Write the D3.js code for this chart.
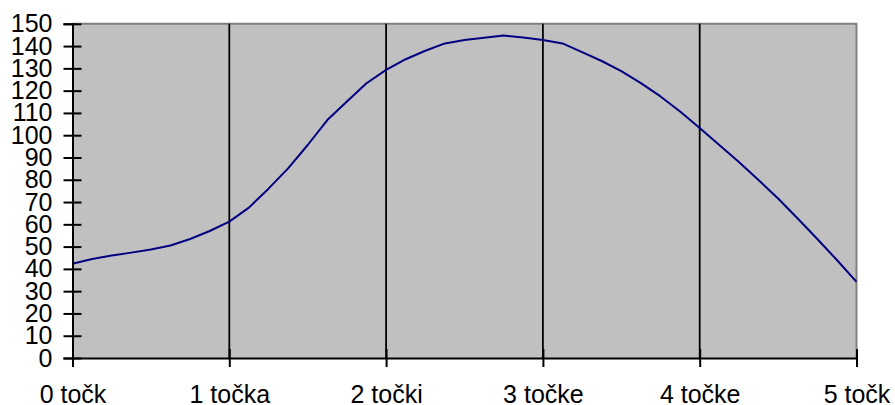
<!DOCTYPE html>
<html>
<head>
<meta charset="utf-8">
<script src="https://cdn.jsdelivr.net/npm/d3@7"></script>
<style>
  html, body { margin: 0; padding: 0; background: #ffffff; }
  svg { display: block; }
  text { font-family: "Liberation Sans", Arial, Helvetica, sans-serif; }
</style>
</head>
<body>
<svg id="chart" width="895" height="405"></svg>
<script>
// Category labels shown on the horizontal axis (one per whole point)
const categoryLabels = ["0 točk", "1 točka", "2 točki", "3 točke", "4 točke", "5 točk"];
// Series sampled every 1/8 of a point, from 0 to 5
const sampleStep = 0.125;
const seriesValues = [
  42.3, 44.4, 46.0, 47.3, 48.7, 50.5, 53.4, 57.0,
  61.2, 67.5, 76.0, 85.1, 95.6, 106.8, 115.1, 123.3,
  129.3, 134.1, 137.9, 141.2, 142.7, 143.7, 144.7, 143.8,
  142.7, 141.2, 137.3, 133.3, 128.8, 123.4, 117.4, 110.6,
  103.2, 95.6, 88.0, 79.9, 71.6, 62.6, 53.4, 44.0,
  34.2
];
// Value axis ticks
const yTickValues = d3.range(0, 151, 10);

const svg = d3.select("#chart");
const plot = { left: 72.5, right: 856.5, top: 23.8, bottom: 358 };
const fontSize = 25;

const x = d3.scaleLinear().domain([0, categoryLabels.length - 1]).range([plot.left, plot.right]);
const y = d3.scaleLinear().domain([0, 150]).range([plot.bottom, plot.top]);

// Plot area background
svg.append("rect")
  .attr("x", plot.left).attr("y", plot.top)
  .attr("width", plot.right - plot.left).attr("height", plot.bottom - plot.top)
  .attr("fill", "#c0c0c0");

// Top and right frame of the plot area
svg.append("path")
  .attr("d", `M${plot.left},${plot.top}H${plot.right}V${plot.bottom}`)
  .attr("fill", "none").attr("stroke", "#808080").attr("stroke-width", 2);

// Vertical gridlines at the inner category ticks
svg.append("g").selectAll("line")
  .data(d3.range(1, categoryLabels.length - 1))
  .join("line")
  .attr("x1", d => x(d)).attr("x2", d => x(d))
  .attr("y1", plot.top).attr("y2", plot.bottom)
  .attr("stroke", "#000").attr("stroke-width", 1.8);

// Data line
const line = d3.line()
  .x((d, i) => x(i * sampleStep))
  .y(d => y(d));
svg.append("path")
  .datum(seriesValues)
  .attr("d", line)
  .attr("fill", "none")
  .attr("stroke", "#000080")
  .attr("stroke-width", 2)
  .attr("stroke-linejoin", "round");

// Value axis
const yAxis = svg.append("g")
  .attr("transform", `translate(${plot.left},0)`)
  .call(d3.axisLeft(y).tickValues(yTickValues).tickSizeOuter(0).tickSize(9).tickPadding(11));
yAxis.select(".domain").attr("stroke", "#000").attr("stroke-width", 2);
yAxis.selectAll(".tick line").attr("x1", -9).attr("x2", 9).attr("stroke", "#000").attr("stroke-width", 2);
yAxis.selectAll(".tick text")
  .attr("x", -20)
  .attr("font-size", fontSize)
  .attr("font-family", "'Liberation Sans', Arial, sans-serif")
  .attr("fill", "#000");

// Category axis
const xAxis = svg.append("g")
  .attr("transform", `translate(0,${plot.bottom})`)
  .call(d3.axisBottom(x).tickValues(d3.range(categoryLabels.length))
    .tickFormat(i => categoryLabels[i]).tickSizeOuter(0).tickSize(9));
xAxis.select(".domain").attr("stroke", "#000").attr("stroke-width", 2);
xAxis.selectAll(".tick line").attr("y1", -9).attr("y2", 9).attr("stroke", "#000").attr("stroke-width", 2);
xAxis.selectAll(".tick text")
  .attr("y", 45).attr("dy", 0)
  .attr("font-size", fontSize)
  .attr("font-family", "'Liberation Sans', Arial, sans-serif")
  .attr("fill", "#000");
</script>
</body>
</html>
